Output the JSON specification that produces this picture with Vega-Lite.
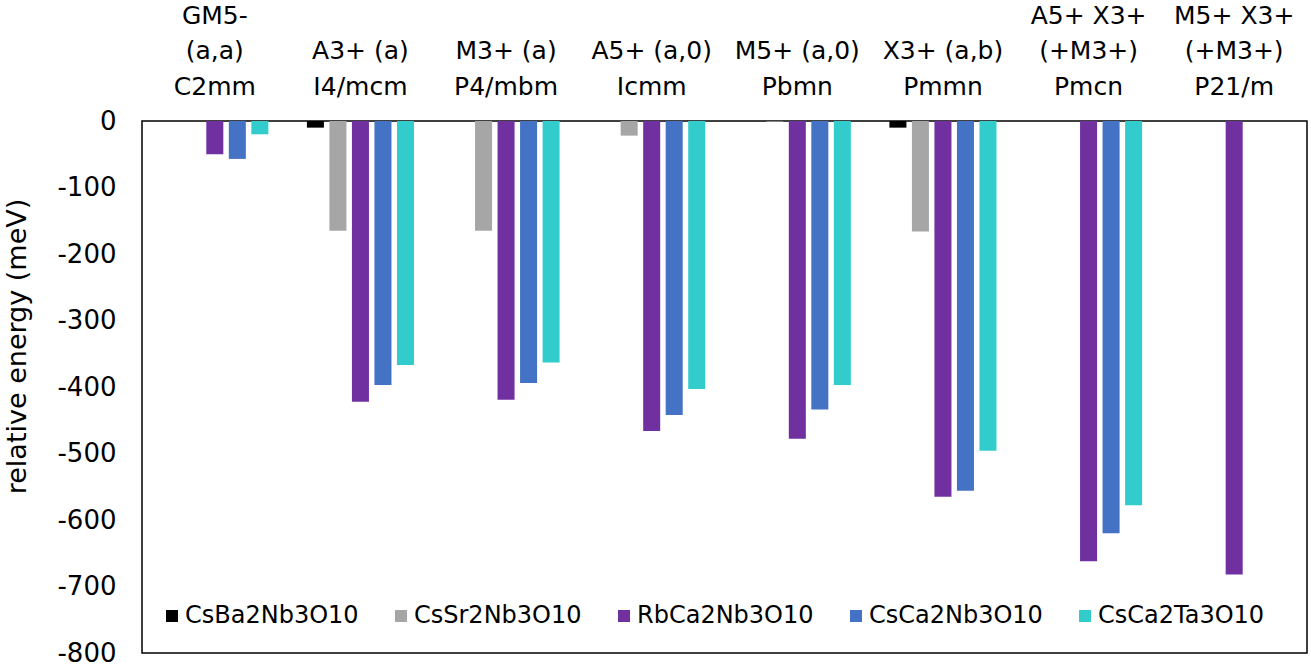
{
  "$schema": "https://vega.github.io/schema/vega-lite/v6.json",
  "width": 1165,
  "height": 532,
  "autosize": {"type": "none"},
  "padding": {"left": 142, "top": 121, "right": 4, "bottom": 14},
  "config": {
    "font": "DejaVu Sans",
    "view": {"stroke": "#000000", "strokeWidth": 1.5},
    "axis": {"grid": false, "labelColor": "#000000", "titleColor": "#000000", "titleFontWeight": "normal"}
  },
  "data": {
    "values": [
      {"cat": "GM5-|(a,a)|C2mm", "compound": "RbCa2Nb3O10", "energy": -50},
      {"cat": "GM5-|(a,a)|C2mm", "compound": "CsCa2Nb3O10", "energy": -57},
      {"cat": "GM5-|(a,a)|C2mm", "compound": "CsCa2Ta3O10", "energy": -20},
      {"cat": "|A3+ (a)|I4/mcm", "compound": "CsBa2Nb3O10", "energy": -10},
      {"cat": "|A3+ (a)|I4/mcm", "compound": "CsSr2Nb3O10", "energy": -165},
      {"cat": "|A3+ (a)|I4/mcm", "compound": "RbCa2Nb3O10", "energy": -422},
      {"cat": "|A3+ (a)|I4/mcm", "compound": "CsCa2Nb3O10", "energy": -397},
      {"cat": "|A3+ (a)|I4/mcm", "compound": "CsCa2Ta3O10", "energy": -367},
      {"cat": "|M3+ (a)|P4/mbm", "compound": "CsSr2Nb3O10", "energy": -165},
      {"cat": "|M3+ (a)|P4/mbm", "compound": "RbCa2Nb3O10", "energy": -419},
      {"cat": "|M3+ (a)|P4/mbm", "compound": "CsCa2Nb3O10", "energy": -394},
      {"cat": "|M3+ (a)|P4/mbm", "compound": "CsCa2Ta3O10", "energy": -363},
      {"cat": "|A5+ (a,0)|Icmm", "compound": "CsSr2Nb3O10", "energy": -22},
      {"cat": "|A5+ (a,0)|Icmm", "compound": "RbCa2Nb3O10", "energy": -466},
      {"cat": "|A5+ (a,0)|Icmm", "compound": "CsCa2Nb3O10", "energy": -442},
      {"cat": "|A5+ (a,0)|Icmm", "compound": "CsCa2Ta3O10", "energy": -403},
      {"cat": "|M5+ (a,0)|Pbmn", "compound": "CsSr2Nb3O10", "energy": -1},
      {"cat": "|M5+ (a,0)|Pbmn", "compound": "RbCa2Nb3O10", "energy": -478},
      {"cat": "|M5+ (a,0)|Pbmn", "compound": "CsCa2Nb3O10", "energy": -434},
      {"cat": "|M5+ (a,0)|Pbmn", "compound": "CsCa2Ta3O10", "energy": -397},
      {"cat": "|X3+ (a,b)|Pmmn", "compound": "CsBa2Nb3O10", "energy": -10},
      {"cat": "|X3+ (a,b)|Pmmn", "compound": "CsSr2Nb3O10", "energy": -166},
      {"cat": "|X3+ (a,b)|Pmmn", "compound": "RbCa2Nb3O10", "energy": -565},
      {"cat": "|X3+ (a,b)|Pmmn", "compound": "CsCa2Nb3O10", "energy": -556},
      {"cat": "|X3+ (a,b)|Pmmn", "compound": "CsCa2Ta3O10", "energy": -496},
      {"cat": "A5+ X3+|(+M3+)|Pmcn", "compound": "RbCa2Nb3O10", "energy": -662},
      {"cat": "A5+ X3+|(+M3+)|Pmcn", "compound": "CsCa2Nb3O10", "energy": -620},
      {"cat": "A5+ X3+|(+M3+)|Pmcn", "compound": "CsCa2Ta3O10", "energy": -578},
      {"cat": "M5+ X3+|(+M3+)|P21/m", "compound": "RbCa2Nb3O10", "energy": -682}
    ]
  },
  "mark": {"type": "bar"},
  "encoding": {
    "x": {
      "field": "cat",
      "type": "nominal",
      "sort": null,
      "scale": {"paddingInner": 0.227, "paddingOuter": 0.1135},
      "axis": {
        "orient": "top",
        "title": null,
        "labelAngle": 0,
        "labelExpr": "split(datum.label, '|')",
        "labelFontSize": 25,
        "labelLineHeight": 35.5,
        "labelBaseline": "alphabetic",
        "labelPadding": 98,
        "ticks": false,
        "tickSize": 0,
        "domain": false,
        "labelLimit": 300
      }
    },
    "xOffset": {
      "field": "compound",
      "type": "nominal",
      "scale": {
        "domain": ["CsBa2Nb3O10", "CsSr2Nb3O10", "RbCa2Nb3O10", "CsCa2Nb3O10", "CsCa2Ta3O10"],
        "paddingInner": 0.244,
        "paddingOuter": 0.122
      }
    },
    "y": {
      "field": "energy",
      "type": "quantitative",
      "scale": {"domain": [-800, 0], "nice": false},
      "axis": {
        "values": [0, -100, -200, -300, -400, -500, -600, -700, -800],
        "labelExpr": "'' + datum.value",
        "labelFontSize": 26,
        "labelPadding": 26,
        "ticks": false,
        "tickSize": 0,
        "domain": false,
        "title": "relative energy (meV)",
        "titleFontSize": 27,
        "titleX": -117,
        "titleY": 225,
        "titleAngle": 270,
        "titleAlign": "center",
        "titleBaseline": "alphabetic"
      }
    },
    "color": {
      "field": "compound",
      "type": "nominal",
      "scale": {
        "domain": ["CsBa2Nb3O10", "CsSr2Nb3O10", "RbCa2Nb3O10", "CsCa2Nb3O10", "CsCa2Ta3O10"],
        "range": ["#000000", "#A6A6A6", "#7030A0", "#4472C4", "#33CCCC"]
      },
      "legend": {
        "orient": "none",
        "legendX": 18,
        "legendY": 483,
        "direction": "horizontal",
        "columns": 5,
        "title": null,
        "symbolType": "square",
        "symbolSize": 144,
        "symbolStrokeWidth": 0,
        "symbolOpacity": 1,
        "labelFontSize": 24,
        "labelColor": "#000000",
        "labelOffset": 1,
        "columnPadding": 30,
        "labelLimit": 300
      }
    }
  }
}
